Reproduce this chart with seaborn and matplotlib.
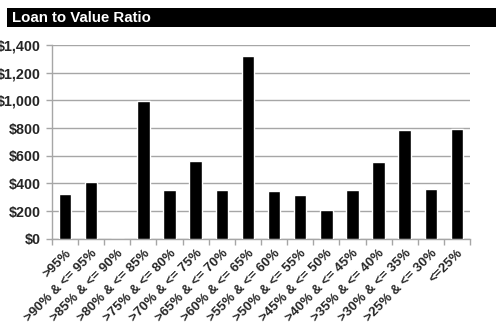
import matplotlib
matplotlib.use("Agg")
import matplotlib.pyplot as plt
import seaborn as sns
import pandas as pd
import numpy as np
from matplotlib.ticker import FuncFormatter, FixedLocator
from matplotlib.patches import Rectangle

categories = [">95%", ">90% & <= 95%", ">85% & <= 90%", ">80% & <= 85%",
              ">75% & <= 80%", ">70% & <= 75%", ">65% & <= 70%", ">60% & <= 65%",
              ">55% & <= 60%", ">50% & <= 55%", ">45% & <= 50%", ">40% & <= 45%",
              ">35% & <= 40%", ">30% & <= 35%", ">25% & <= 30%", "<=25%"]
values = [325, 408, 0, 992, 352, 562, 352, 1322,
          346, 315, 207, 354, 554, 785, 361, 792]
y_ticks = [0, 200, 400, 600, 800, 1000, 1200, 1400]

sns.set_style("white")
plt.rcParams['font.family'] = ['Liberation Sans', 'DejaVu Sans']

df = pd.DataFrame({"band": categories, "amount": values})

fig = plt.figure(figsize=(4.96, 3.24), dpi=100)
ax = fig.add_axes([0.1048, 0.2633, 0.8428, 0.5977])

sns.barplot(data=df, x="band", y="amount", color="black", width=0.48,
            saturation=1, ax=ax, zorder=3)

ax.set_xlim(-0.5, len(categories) - 0.5)
ax.set_ylim(0, 1400)
ax.yaxis.set_major_locator(FixedLocator(y_ticks))
ax.yaxis.set_major_formatter(FuncFormatter(lambda v, p: f"${v:,.0f}"))
ax.grid(axis="y", color="#a6a6a6", linewidth=1.0, zorder=0)
ax.set_axisbelow(True)
ax.set_xlabel("")
ax.set_ylabel("")

for side in ["top", "right"]:
    ax.spines[side].set_visible(False)
for side in ["left", "bottom"]:
    ax.spines[side].set_color("#a6a6a6")
    ax.spines[side].set_linewidth(1.0)

# tick marks sit on category boundaries; labels at category centres
ax.set_xticks(np.arange(len(categories) + 1) - 0.5, minor=True)
ax.tick_params(axis="x", which="minor", length=4, color="#a6a6a6", width=1, direction="out", bottom=True)
ax.tick_params(axis="x", which="major", length=0, pad=6)
ax.tick_params(axis="y", which="major", length=4, color="#a6a6a6", width=1, direction="out", left=True, pad=4)

ax.set_xticks(np.arange(len(categories)))
ax.set_xticklabels(categories, rotation=45, ha="right", rotation_mode="anchor",
                   fontsize=9.5, fontweight="bold")
for lbl in ax.get_yticklabels():
    lbl.set_fontsize(10.3)
    lbl.set_fontweight("bold")

# title band
fig.patches.append(Rectangle((7 / 496, 1 - 27 / 324), 1 - 7 / 496, 19 / 324,
                             transform=fig.transFigure, facecolor="black",
                             edgecolor="none", zorder=0))
fig.text(11.5 / 496, 1 - 18 / 324, "Loan to Value Ratio", color="white",
         fontsize=10.8, fontweight="bold", va="center", ha="left")

fig.savefig("out.png", dpi=100)
